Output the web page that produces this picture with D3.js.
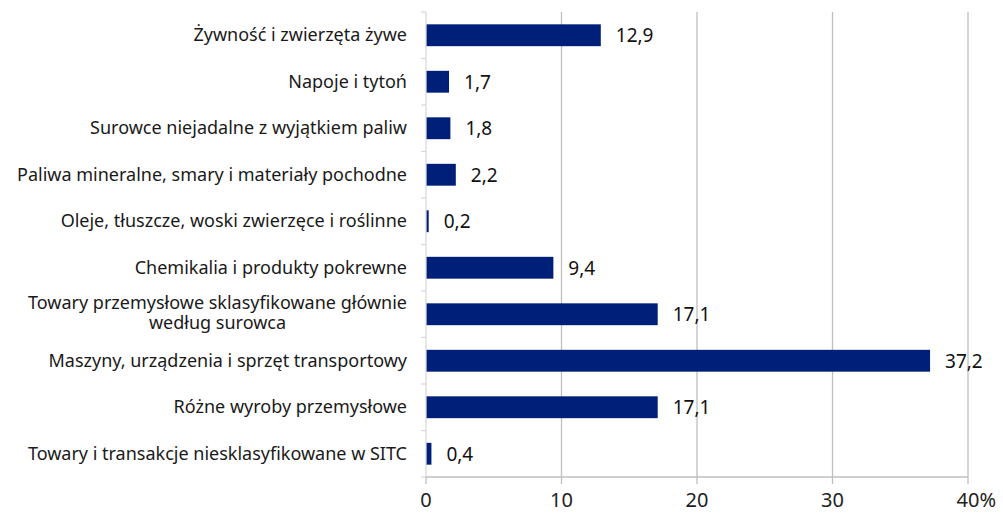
<!DOCTYPE html>
<html><head><meta charset="utf-8">
<script src="https://cdn.jsdelivr.net/npm/d3@7"></script>
<style>body{margin:0;background:#fff;} svg{display:block;}</style>
</head><body>
<svg id="c" width="1003" height="515"></svg>
<script>
const categories = [
  "Żywność i zwierzęta żywe",
  "Napoje i tytoń",
  "Surowce niejadalne z wyjątkiem paliw",
  "Paliwa mineralne, smary i materiały  pochodne",
  "Oleje, tłuszcze, woski zwierzęce i roślinne",
  "Chemikalia i produkty pokrewne",
  "Towary przemysłowe sklasyfikowane głównie|według surowca",
  "Maszyny, urządzenia i sprzęt transportowy",
  "Różne wyroby przemysłowe",
  "Towary i transakcje niesklasyfikowane w SITC"
];
const values = [12.9, 1.7, 1.8, 2.2, 0.2, 9.4, 17.1, 37.2, 17.1, 0.4];
const tickValues = [0, 10, 20, 30, 40];
const tickLabels = ["0", "10", "20", "30", "40"];
const tickSuffix = "%";

const svg = d3.select("#c");
const font = "'Noto Sans', 'Open Sans', sans-serif";
const plotTop = 12, plotBottom = 477;
const x = d3.scaleLinear().domain([0, 40]).range([426, 968]);
const y = d3.scaleBand().domain(d3.range(categories.length)).range([plotTop, plotBottom]).paddingInner(0.53).paddingOuter(0.265);
const band = (plotBottom - plotTop) / categories.length;

// gridlines
svg.append("g").selectAll("line").data(tickValues.slice(1)).join("line")
  .attr("x1", d => x(d)).attr("x2", d => x(d)).attr("y1", plotTop).attr("y2", plotBottom)
  .attr("stroke", "#bfbfbf").attr("stroke-width", 1.3);

// bars
svg.append("g").selectAll("rect").data(values).join("rect")
  .attr("x", x(0)).attr("y", (d, i) => y(i)).attr("height", y.bandwidth())
  .attr("width", d => x(d) - x(0)).attr("fill", "#001f78");

// left axis line + category ticks
svg.append("line").attr("x1", x(0)).attr("x2", x(0)).attr("y1", plotTop).attr("y2", plotBottom)
  .attr("stroke", "#d9d9d9").attr("stroke-width", 1.3);
svg.append("g").selectAll("line").data(d3.range(categories.length + 1)).join("line")
  .attr("x1", x(0) - 5).attr("x2", x(0))
  .attr("y1", i => plotTop + i * band).attr("y2", i => plotTop + i * band)
  .attr("stroke", "#d9d9d9").attr("stroke-width", 1.3);

// bottom axis
svg.append("line").attr("x1", x(0)).attr("x2", x(40)).attr("y1", plotBottom).attr("y2", plotBottom)
  .attr("stroke", "#bfbfbf").attr("stroke-width", 1.3);
svg.append("g").selectAll("line").data(tickValues).join("line")
  .attr("x1", d => x(d)).attr("x2", d => x(d)).attr("y1", plotBottom).attr("y2", plotBottom + 7)
  .attr("stroke", "#bfbfbf").attr("stroke-width", 1.3);
const tg = svg.append("g");
tickValues.forEach((d, i) => {
  const t = tg.append("text").attr("y", 507)
    .attr("font-family", font).attr("font-size", 20).attr("fill", "#222").text(tickLabels[i]);
  const w = t.node().getComputedTextLength();
  t.attr("x", x(d) - w / 2);
  if (i === tickValues.length - 1) t.append("tspan").text(tickSuffix);
});

// category labels
const lab = svg.append("g");
const fs = 18;
categories.forEach((c, i) => {
  const cy = y(i) + y.bandwidth() / 2;
  const parts = c.split("|");
  const t = lab.append("text").attr("font-family", font).attr("font-size", fs).attr("fill", "#1a1a1a");
  if (parts.length === 1) {
    t.attr("x", 407).attr("y", cy + 6).attr("text-anchor", "end").text(c);
  } else {
    const s1 = t.append("tspan").attr("x", 407).attr("y", cy - 5).attr("text-anchor", "end").text(parts[0]);
    const w = s1.node().getComputedTextLength();
    t.append("tspan").attr("x", 407 - w / 2).attr("y", cy + 15).attr("text-anchor", "middle").text(parts[1]);
  }
});

// value labels
svg.append("g").selectAll("text").data(values).join("text")
  .attr("x", d => x(d) + 15).attr("y", (d, i) => y(i) + y.bandwidth() / 2 + 7)
  .attr("font-family", font).attr("font-size", 19).attr("fill", "#111")
  .text(d => d.toFixed(1).replace(".", ","));
</script>
</body></html>
